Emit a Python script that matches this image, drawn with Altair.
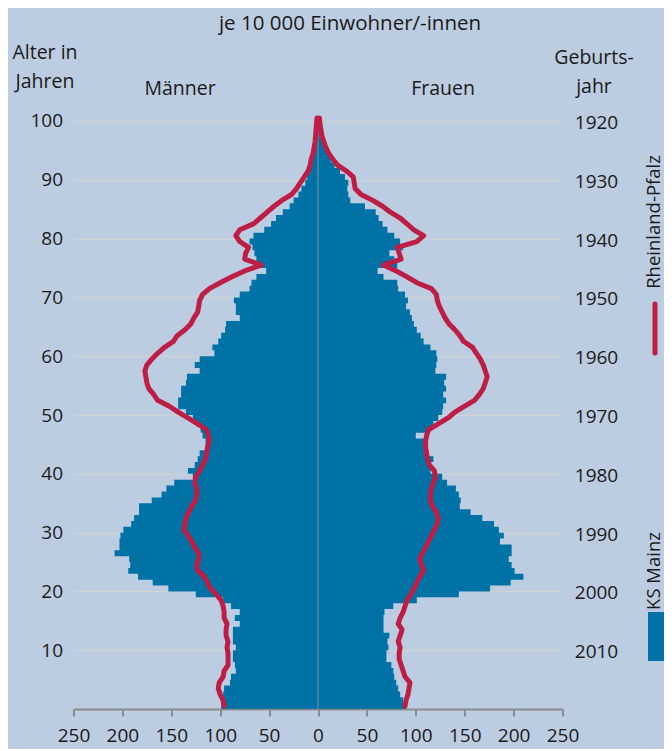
import altair as alt
import pandas as pd

# ---------------- data ----------------
ages = list(range(0, 101))

# KS Mainz, per 10 000 inhabitants, age 0 .. 100
men_mainz = [102, 99, 99, 97, 96, 90, 89, 84, 85, 87,
             87, 84, 87, 87, 87, 80, 85, 80, 89, 97,
             125, 153, 169, 184, 194, 192, 193, 208, 203, 203,
             202, 199, 191, 188, 183, 183, 170, 160, 155, 147,
             128, 133, 126, 123, 121, 115, 115, 118, 120, 124,
             128, 135, 143, 143, 140, 140, 135, 134, 121, 126,
             121, 106, 108, 102, 99, 95, 94, 80, 84, 84,
             86, 80, 70, 68, 63, 53, 61, 63, 65, 67,
             70, 66, 55, 48, 43, 36, 29, 25, 20, 17,
             13, 11, 8.5, 7, 6, 4.5, 3.5, 2.5, 2, 1, 1]
women_mainz = [96, 90, 87, 84, 82, 80, 78, 77, 75, 70,
               70, 72, 71, 73, 67, 67, 67, 68, 77, 101,
               144, 176, 197, 210, 201, 198, 195, 198, 198, 186,
               190, 185, 180, 168, 156, 145, 146, 144, 141, 132,
               127, 115, 114, 118, 113, 111, 111, 100, 114, 118,
               123, 127, 128, 131, 128, 131, 129, 131, 120, 121,
               122, 121, 115, 108, 105, 101, 98, 96, 94, 90,
               92, 89, 82, 81, 67, 61, 81, 78, 73, 87,
               84, 78, 71, 66, 62, 59, 48, 33, 31, 30,
               31, 27.6, 22.5, 17, 13, 11, 9, 7, 5.5, 4, 1.5]

# Rheinland-Pfalz, value at age + 0.5, age 0 .. 100
men_rlp = [96, 97, 100, 102, 101, 97, 96, 92, 92, 92,
           93, 92, 94, 94, 93, 96, 96, 97, 99, 104,
           110, 113, 116, 123, 124, 122, 122, 126, 129, 133,
           137, 136, 135, 132, 129, 125, 124, 124, 126, 125,
           121, 118, 115, 114, 113, 111, 112, 114, 123, 133,
           143, 152, 164, 168, 173, 175, 176, 177, 175, 170,
           164, 157, 148, 144, 136, 130, 127, 123, 122, 121,
           118, 111, 100, 88, 75, 58, 75, 74, 71, 80,
           84, 80, 66, 59, 52, 45, 37, 27, 22, 18,
           14, 10, 8, 7, 5, 4, 3, 2.5, 2, 1.5, 1]
women_rlp = [89, 90, 92, 93, 94, 89, 87, 85, 83, 83,
             84, 82, 84, 86, 82, 84, 87, 89, 91, 95,
             98, 101, 104, 108, 106, 104, 107, 110, 113, 116,
             119, 122, 123, 121, 117, 115, 115, 116, 118, 120,
             119, 114, 112, 111, 110, 110, 111, 113, 123, 133,
             140, 150, 160, 165, 169, 171, 173, 171, 169, 166,
             162, 158, 149, 145, 140, 134, 130, 127, 124, 122,
             121, 116, 101, 91, 80, 67, 85, 83, 81, 101,
             108, 98, 91, 84, 74, 66, 56, 44, 38, 37,
             36, 29, 20, 15, 11, 8, 6, 4, 3, 2, 1.5]

x_ticks = [-250, -200, -150, -100, -50, 0, 50, 100, 150, 200, 250]
age_ticks = [10, 20, 30, 40, 50, 60, 70, 80, 90, 100]
year_ticks = [1920, 1930, 1940, 1950, 1960, 1970, 1980, 1990, 2000, 2010]
ref_year = 2020

# ---------------- styling ----------------
BG = "#BCCDE2"
BLUE = "#0072A6"
RED = "#BE1E46"
GRID = "#D3D3D0"
AXIS = "#8C8C8C"
TXT = "#1A1A1A"
FONT = "Open Sans"
FS = 19

W, H = 489, 594
OX, OY = 73.5, 115.1

n = len(ages)
# population areas as step outlines: value of age a held from a to a+1
area_df = pd.DataFrame({
    "age": (ages + [ages[-1] + 1]) * 2,
    "value": [-v for v in men_mainz] + [0] + women_mainz + [0],
    "sex": ["Männer"] * (n + 1) + ["Frauen"] * (n + 1),
})
lines_df = pd.DataFrame({
    "age": [a + 0.5 for a in ages] * 2,
    "value": [-v for v in men_rlp] + women_rlp,
    "sex": ["Männer"] * n + ["Frauen"] * n,
})
years_df = pd.DataFrame({"year": year_ticks,
                         "age": [ref_year - y for y in year_ticks]})

xscale = alt.Scale(domain=[-250, 250], nice=False, zero=False)
yscale = alt.Scale(domain=[0, 101], nice=False, zero=False)

x_axis = alt.Axis(values=x_ticks, labelExpr="abs(datum.value)", title=None,
                  grid=False, domainColor=AXIS, domainWidth=2, tickColor=AXIS,
                  tickWidth=2, tickSize=7, labelPadding=10, labelFontSize=FS,
                  labelColor=TXT, labelFont=FONT, labelFlush=False)

y_axis = alt.Axis(values=age_ticks, title=None, grid=True, gridColor=GRID,
                  gridWidth=1, ticks=False, domain=False, labelPadding=11,
                  labelFontSize=FS, labelColor=TXT, labelFont=FONT)

X = alt.X("value:Q", scale=xscale, axis=x_axis)
Y = alt.Y("age:Q", scale=yscale, axis=y_axis)

areas = alt.Chart(area_df).mark_area(
    color=BLUE, orient="horizontal", interpolate="step-before").encode(
    x=X, x2=alt.datum(0), y=Y, detail="sex:N")

center = alt.Chart(pd.DataFrame({"value": [0], "age": [0], "age_end": [100.8]})).mark_rule(
    color="#8E8E8E", strokeWidth=1).encode(x=X, y=Y, y2="age_end:Q")

lines = alt.Chart(lines_df).mark_line(
    color=RED, strokeWidth=5, strokeJoin="round", strokeCap="round").encode(
    x=X, y=Y, detail="sex:N", order="age:Q")

years = alt.Chart(years_df).mark_text(
    font=FONT, fontSize=FS, color=TXT, align="center", baseline="middle", dy=2).encode(
    x=alt.value(W + 34), y=Y, text="year:Q")

one = pd.DataFrame({"a": [0]})


def label(text, x, y, angle=0, size=FS):
    kw = dict(font=FONT, fontSize=size, color=TXT, align="center", baseline="middle")
    if angle:
        kw["angle"] = angle
    return alt.Chart(one).mark_text(text=text, **kw).encode(
        x=alt.value(x), y=alt.value(y))


texts = [
    label("je 10 000 Einwohner/-innen", 350 - OX, 24 - OY, size=20.5),
    label("Alter in", 45 - OX, 53 - OY, size=19.5),
    label("Jahren", 45 - OX, 82 - OY, size=19.5),
    label("Männer", 180 - OX, 89 - OY, size=19.5),
    label("Frauen", 443 - OX, 89 - OY, size=19.5),
    label("Geburts-", 594 - OX, 58 - OY, size=19.5),
    label("jahr", 594 - OX, 87 - OY, size=19.5),
    label("Rheinland-Pfalz", 654 - OX, 222 - OY, angle=270, size=18.5),
    label("KS Mainz", 654 - OX, 571 - OY, angle=270, size=18.5),
]

leg_line = alt.Chart(one).mark_rule(color=RED, strokeWidth=5, strokeCap="round").encode(
    x=alt.value(655 - OX), y=alt.value(304 - OY), y2=alt.value(353 - OY))
leg_box = alt.Chart(one).mark_rect(color=BLUE).encode(
    x=alt.value(648 - OX), x2=alt.value(664 - OX),
    y=alt.value(612 - OY), y2=alt.value(661 - OY))

SVG_W, SVG_H = 656, 741
chart = alt.layer(areas, center, lines, years, *texts, leg_line, leg_box).properties(
    width=W, height=H, background=BG,
    autosize=alt.AutoSizeParams(type="none"),
    padding={"left": OX - 8, "top": OY - 8,
             "right": SVG_W - (OX - 8) - W,
             "bottom": SVG_H - (OY - 8) - H},
).configure_view(stroke=None)

chart.save("out.html", embed_options={"renderer": "svg", "actions": False})
